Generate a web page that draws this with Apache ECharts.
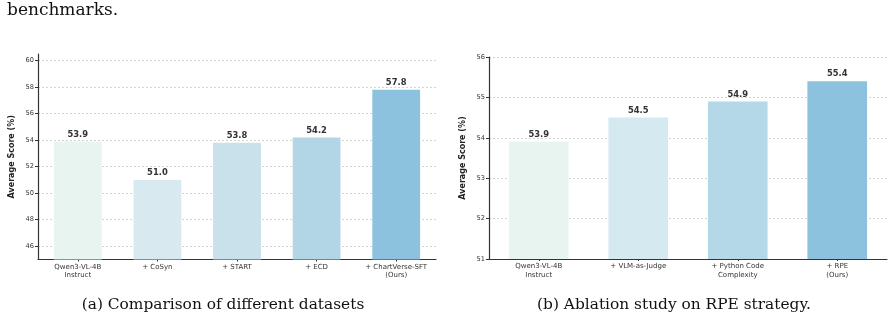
<!DOCTYPE html>
<html>
<head>
<meta charset="utf-8">
<script src="https://cdn.jsdelivr.net/npm/echarts@6/dist/echarts.min.js"></script>
<style>
  html, body { margin: 0; padding: 0; background: #fff; }
  #chart { width: 894px; height: 321px; }
</style>
</head>
<body>
<div id="chart"></div>
<script>
// (a) datasets comparison
const datasetCats = ['Qwen3-VL-4B\nInstruct', '+ CoSyn', '+ START', '+ ECD', '+ ChartVerse-SFT\n(Ours)'];
const datasetScores = [53.9, 51.0, 53.8, 54.2, 57.8];
const datasetColors = ['#e8f4ef', '#d8eaf0', '#c8e1eb', '#b2d6e6', '#8cc2de'];

// (b) RPE ablation
const ablationCats = ['Qwen3-VL-4B\nInstruct', '+ VLM-as-Judge', '+ Python Code\nComplexity', '+ RPE\n(Ours)'];
const ablationScores = [53.9, 54.5, 54.9, 55.4];
const ablationColors = ['#e8f4ef', '#d5e9f0', '#b5d8e8', '#8cc2de'];

const font = 'DejaVu Sans';
const ink = '#333';

const chart = echarts.init(document.getElementById('chart'));

function yAxisOpts(gridIndex, min, max, step) {
  return {
    type: 'value',
    gridIndex: gridIndex,
    min: min,
    max: max,
    splitNumber: 8,
    minInterval: step,
    maxInterval: step,
    name: 'Average Score (%)',
    nameLocation: 'middle',
    nameGap: 22,
    nameTextStyle: { fontFamily: font, fontSize: 8, fontWeight: 'bold', color: '#222' },
    axisLine: { show: true, lineStyle: { color: '#333', width: 1.2 } },
    axisTick: { show: true, length: 3, lineStyle: { color: '#333' } },
    axisLabel: { fontFamily: font, fontSize: 6.6, color: ink, margin: 4, showMinLabel: gridIndex === 1, showMaxLabel: gridIndex === 1 },
    splitLine: {
      show: true,
      showMinLine: false,
      showMaxLine: gridIndex === 1,
      lineStyle: { color: '#c8c8c8', type: [2, 2], width: 0.8 }
    }
  };
}

function xAxisOpts(gridIndex, cats) {
  return {
    type: 'category',
    gridIndex: gridIndex,
    data: cats,
    axisLine: { lineStyle: { color: '#333', width: 1.2 } },
    axisTick: { show: true, alignWithLabel: true, length: 2, lineStyle: { color: '#333' } },
    axisLabel: { fontFamily: font, fontSize: 7, color: ink, lineHeight: 8.5, margin: 3, interval: 0 }
  };
}

function barSeries(idx, values, colors) {
  return {
    type: 'bar',
    xAxisIndex: idx,
    yAxisIndex: idx,
    barWidth: '60%',
    data: values.map((v, i) => ({ value: v, itemStyle: { color: colors[i] } })),
    label: {
      show: true,
      position: 'top',
      distance: 3,
      fontFamily: font,
      fontSize: 8.4,
      fontWeight: 'bold',
      color: ink,
      formatter: p => p.value.toFixed(1)
    }
  };
}

chart.setOption({
  animation: false,
  backgroundColor: '#fff',
  grid: [
    { left: 38, right: 458, top: 54, bottom: 61.5 },
    { left: 489, right: 7, top: 57, bottom: 62 }
  ],
  xAxis: [xAxisOpts(0, datasetCats), xAxisOpts(1, ablationCats)],
  yAxis: [yAxisOpts(0, 45, 60.5, 2), yAxisOpts(1, 51, 56, 1)],
  series: [barSeries(0, datasetScores, datasetColors), barSeries(1, ablationScores, ablationColors)],
  graphic: [
    {
      type: 'text', left: 7, top: 2,
      style: { text: 'benchmarks.', fontFamily: 'DejaVu Serif', fontSize: 17, fill: '#111' }
    },
    {
      type: 'text', x: 223, y: 297,
      style: { text: '(a) Comparison of different datasets', fontFamily: 'DejaVu Serif', fontSize: 15.4, fill: '#111', align: 'center' }
    },
    {
      type: 'text', x: 674, y: 297,
      style: { text: '(b) Ablation study on RPE strategy.', fontFamily: 'DejaVu Serif', fontSize: 15.4, fill: '#111', align: 'center' }
    }
  ]
});
</script>
</body>
</html>
